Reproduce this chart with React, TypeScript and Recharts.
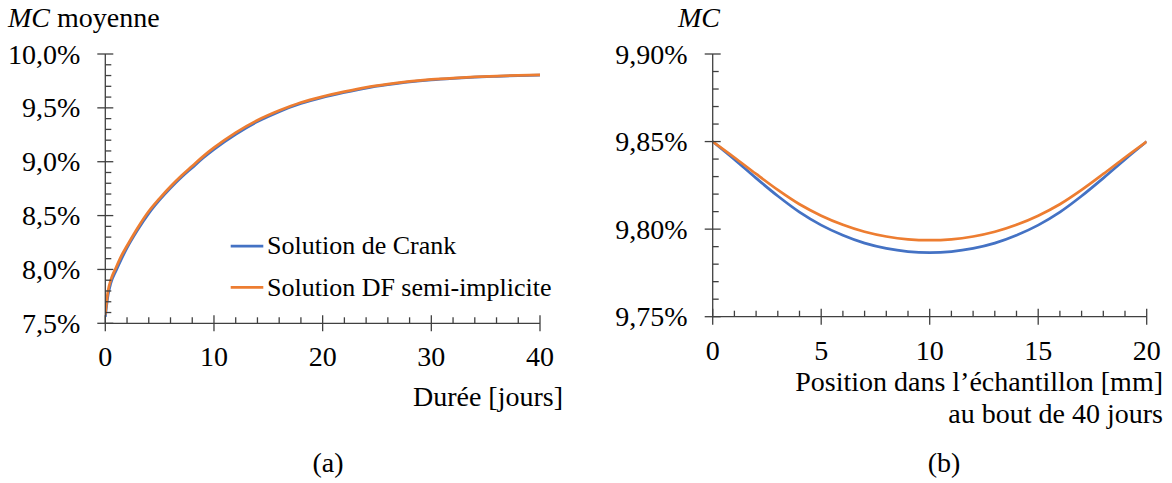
import React from "react";
import { LineChart, Line, XAxis, YAxis } from "recharts";

// (a) MC moyenne en fonction de la durée
const dureeJours = [0, 0.25, 0.5, 1, 1.5, 2, 3, 4, 5, 6, 7, 8, 9, 10, 12, 14, 16, 18, 20, 22, 24, 26, 28, 30, 32, 34, 36, 38, 40];
const mcMoyCrank = [7.56, 7.76, 7.87, 7.99, 8.1, 8.2, 8.37, 8.52, 8.645, 8.755, 8.855, 8.945, 9.035, 9.115, 9.255, 9.372, 9.465, 9.54, 9.597, 9.643, 9.684, 9.715, 9.741, 9.76, 9.774, 9.785, 9.793, 9.8, 9.805];
const mcMoyDF = [7.58, 7.8, 7.9, 8.02, 8.13, 8.22, 8.39, 8.54, 8.66, 8.77, 8.87, 8.96, 9.05, 9.13, 9.27, 9.385, 9.475, 9.55, 9.605, 9.65, 9.69, 9.72, 9.745, 9.764, 9.777, 9.787, 9.795, 9.801, 9.806];

// (b) profil de MC au bout de 40 jours
const positionMm = [0, 1, 2, 3, 4, 5, 6, 7, 8, 9, 10, 11, 12, 13, 14, 15, 16, 17, 18, 19, 20];
const mcProfilCrank = [9.85, 9.8398, 9.8291, 9.8189, 9.8097, 9.8023, 9.7965, 9.792, 9.789, 9.7872, 9.7866, 9.7872, 9.789, 9.792, 9.7965, 9.8023, 9.8097, 9.8189, 9.8291, 9.8398, 9.85];
const mcProfilDF = [9.85, 9.8409, 9.8315, 9.8224, 9.8142, 9.8077, 9.8025, 9.7985, 9.7958, 9.7942, 9.7937, 9.7942, 9.7958, 9.7985, 9.8025, 9.8077, 9.8142, 9.8224, 9.8315, 9.8409, 9.85];

// graduations
const ticksDuree = [0, 2, 4, 6, 8, 10, 12, 14, 16, 18, 20, 22, 24, 26, 28, 30, 32, 34, 36, 38, 40];
const majeursDuree = [0, 10, 20, 30, 40];
const ticksMcMoy = [7.5, 7.6, 7.7, 7.8, 7.9, 8.0, 8.1, 8.2, 8.3, 8.4, 8.5, 8.6, 8.7, 8.8, 8.9, 9.0, 9.1, 9.2, 9.3, 9.4, 9.5, 9.6, 9.7, 9.8, 9.9, 10.0];
const majeursMcMoy = [7.5, 8.0, 8.5, 9.0, 9.5, 10.0];
const ticksPosition = [0, 1, 2, 3, 4, 5, 6, 7, 8, 9, 10, 11, 12, 13, 14, 15, 16, 17, 18, 19, 20];
const majeursPosition = [0, 5, 10, 15, 20];
const ticksMcProfil = [9.75, 9.76, 9.77, 9.78, 9.79, 9.8, 9.81, 9.82, 9.83, 9.84, 9.85, 9.86, 9.87, 9.88, 9.89, 9.9];
const majeursMcProfil = [9.75, 9.8, 9.85, 9.9];

const BLUE = "#4472C4";
const ORANGE = "#ED7D31";
const AXIS = "#404040";
const FONT = "'Liberation Serif', 'Times New Roman', serif";

const dataMoy = dureeJours.map((t, i) => ({ t, crank: mcMoyCrank[i], df: mcMoyDF[i] }));
const dataProfil = positionMm.map((x, i) => ({ x, crank: mcProfilCrank[i], df: mcProfilDF[i] }));

const isMajor = (v: number, majors: number[]) => majors.some((m) => Math.abs(m - v) < 1e-6);

const tickText = { fontFamily: FONT, fontSize: 28, fill: "#000" };

function makeXTick(majors: number[]) {
    return (props: any) => {
        const { x, y, payload } = props;
        const major = isMajor(payload.value, majors);
        return (
            <g>
                <line x1={x} x2={x} y1={major ? y - 8 : y - 6} y2={major ? y + 8 : y} stroke={AXIS} strokeWidth={1.3} />
                {major && (
                    <text x={x} y={y + 43} textAnchor="middle" style={tickText}>
                        {String(payload.value)}
                    </text>
                )}
            </g>
        );
    };
}

function makeYTick(majors: number[], digits: number) {
    return (props: any) => {
        const { x, y, payload } = props;
        const major = isMajor(payload.value, majors);
        return (
            <g>
                <line x1={major ? x - 8 : x} x2={major ? x + 8 : x + 6} y1={y} y2={y} stroke={AXIS} strokeWidth={1.3} />
                {major && (
                    <text x={x - 25} y={y + 9.5} textAnchor="end" style={tickText}>
                        {payload.value.toFixed(digits).replace(".", ",") + "%"}
                    </text>
                )}
            </g>
        );
    };
}

export default function App() {
    return (
        <div style={{ position: "fixed", left: 0, top: 0, width: 1172, height: 483, background: "#fff", overflow: "hidden" }}>
            {/* (a) */}
            <div style={{ position: "absolute", left: 0, top: 0 }}>
                <LineChart width={600} height={483} data={dataMoy} margin={{ top: 54, right: 60, left: 45.3, bottom: 119.7 }}>
                    <XAxis
                        dataKey="t"
                        type="number"
                        domain={[0, 40]}
                        ticks={ticksDuree}
                        interval={0}
                        height={40}
                        tickSize={0}
                        tickMargin={0}
                        axisLine={{ stroke: AXIS, strokeWidth: 1.3 }}
                        tickLine={false}
                        tick={makeXTick(majeursDuree)}
                        allowDataOverflow
                    />
                    <YAxis
                        type="number"
                        domain={[7.5, 10]}
                        ticks={ticksMcMoy}
                        interval={0}
                        width={60}
                        tickSize={0}
                        tickMargin={0}
                        axisLine={{ stroke: AXIS, strokeWidth: 1.3 }}
                        tickLine={false}
                        tick={makeYTick(majeursMcMoy, 1)}
                        allowDataOverflow
                    />
                    <Line type="monotone" dataKey="crank" stroke={BLUE} strokeWidth={2.75} dot={false} isAnimationActive={false} />
                    <Line type="monotone" dataKey="df" stroke={ORANGE} strokeWidth={2.75} dot={false} isAnimationActive={false} />
                </LineChart>
            </div>

            {/* (b) */}
            <div style={{ position: "absolute", left: 600, top: 0 }}>
                <LineChart width={572} height={483} data={dataProfil} margin={{ top: 54, right: 25.3, left: 52.7, bottom: 126.3 }}>
                    <XAxis
                        dataKey="x"
                        type="number"
                        domain={[0, 20]}
                        ticks={ticksPosition}
                        interval={0}
                        height={40}
                        tickSize={0}
                        tickMargin={0}
                        axisLine={{ stroke: AXIS, strokeWidth: 1.3 }}
                        tickLine={false}
                        tick={makeXTick(majeursPosition)}
                        allowDataOverflow
                    />
                    <YAxis
                        type="number"
                        domain={[9.75, 9.9]}
                        ticks={ticksMcProfil}
                        interval={0}
                        width={60}
                        tickSize={0}
                        tickMargin={0}
                        axisLine={{ stroke: AXIS, strokeWidth: 1.3 }}
                        tickLine={false}
                        tick={makeYTick(majeursMcProfil, 2)}
                        allowDataOverflow
                    />
                    <Line type="monotone" dataKey="crank" stroke={BLUE} strokeWidth={2.75} dot={false} isAnimationActive={false} />
                    <Line type="monotone" dataKey="df" stroke={ORANGE} strokeWidth={2.75} dot={false} isAnimationActive={false} />
                </LineChart>
            </div>

            {/* titres, légende */}
            <svg width={1172} height={483} style={{ position: "absolute", left: 0, top: 0, pointerEvents: "none" }} fontFamily={FONT} fill="#000">
                <text x={8} y={27} fontSize={28}>
                    <tspan fontStyle="italic">MC</tspan> moyenne
                </text>
                <text x={678} y={27} fontSize={28} fontStyle="italic">MC</text>

                <line x1={230.7} x2={263.3} y1={246} y2={246} stroke={BLUE} strokeWidth={2.75} />
                <text x={267} y={254} fontSize={26}>Solution de Crank</text>
                <line x1={230.7} x2={263.3} y1={287.3} y2={287.3} stroke={ORANGE} strokeWidth={2.75} />
                <text x={267} y={295.5} fontSize={26}>Solution DF semi-implicite</text>

                <text x={563} y={406} fontSize={28} textAnchor="end">Durée [jours]</text>
                <text x={1163} y={391} fontSize={28} textAnchor="end">Position dans l’échantillon [mm]</text>
                <text x={1163} y={423} fontSize={28} textAnchor="end">au bout de 40 jours</text>

                <text x={328} y={472} fontSize={28} textAnchor="middle">(a)</text>
                <text x={944} y={472} fontSize={28} textAnchor="middle">(b)</text>
            </svg>
        </div>
    );
}
